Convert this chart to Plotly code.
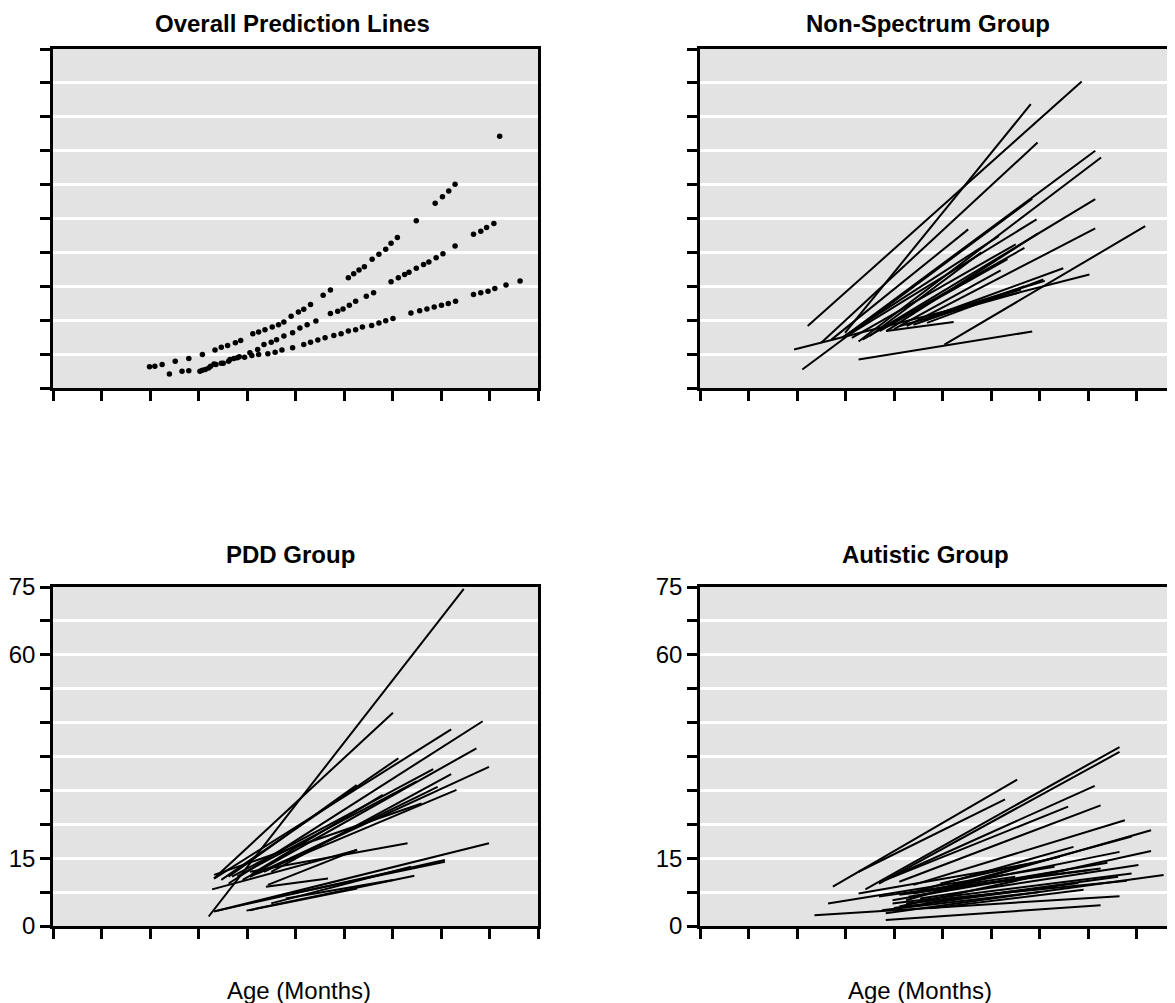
import plotly.graph_objects as go
from plotly.subplots import make_subplots

# The page body adds an 8 px margin, so the figure is 8 px smaller than the window
# and every pixel position below is relative to the figure's own top-left corner.
W, H = 1167, 995

# ---------------- Data ----------------
# Overall prediction lines (three dotted curves): age (months), score
upper_age = [19.9, 21.0, 22.5, 25.2, 28.0, 30.8, 33.4, 34.7, 36.0, 37.6, 38.7, 41.2, 42.4, 43.7,
             45.2, 46.5, 47.6, 49.1, 50.6, 51.7, 53.1, 55.7, 57.2, 60.9, 62.0, 63.1, 64.2, 65.8,
             67.2, 68.6, 69.7, 71.0, 74.9, 78.8, 80.3, 81.6, 82.9, 92.1]
upper_score = [4.7, 4.8, 5.2, 5.9, 6.5, 7.4, 8.4, 9.0, 9.4, 10.0, 10.5, 12.0, 12.4, 12.9,
               13.5, 14.0, 14.6, 15.9, 16.8, 17.4, 18.5, 20.5, 21.7, 24.4, 25.3, 26.1, 26.8, 28.5,
               29.6, 30.7, 32.0, 33.3, 37.0, 40.9, 42.3, 43.6, 45.1, 55.7]

middle_age = [24.0, 26.6, 28.0, 30.8, 32.1, 33.2, 34.7, 36.2, 37.3, 38.4, 40.6, 42.2, 43.5, 45.0,
              46.1, 47.6, 49.4, 50.9, 52.4, 54.2, 57.2, 58.7, 59.8, 61.1, 62.4, 64.6, 66.1, 69.7,
              71.2, 72.5, 73.4, 74.9, 76.4, 77.5, 79.0, 80.4, 82.9, 86.7, 88.2, 89.4, 90.9]
middle_score = [3.1, 3.7, 3.8, 3.9, 4.4, 5.3, 5.5, 5.9, 6.5, 6.9, 7.8, 8.5, 9.6, 10.1,
                10.7, 11.5, 12.2, 13.3, 14.0, 14.8, 16.5, 17.0, 17.5, 18.3, 19.2, 20.3, 21.1, 23.5,
                24.4, 25.1, 25.6, 26.5, 27.3, 27.9, 28.8, 29.7, 31.4, 34.0, 34.7, 35.5, 36.4]

lower_age = [30.3, 31.4, 32.5, 33.6, 35.1, 36.5, 38.0, 39.5, 41.0, 42.4, 44.3, 45.8, 47.2, 49.4,
             51.7, 53.1, 54.6, 56.1, 57.9, 59.4, 60.9, 62.4, 63.8, 65.7, 67.2, 68.6, 70.1, 73.8,
             75.6, 77.1, 78.6, 80.1, 81.5, 83.0, 86.7, 88.2, 89.7, 91.1, 93.4, 96.3]
lower_score = [3.7, 4.1, 4.8, 5.2, 5.5, 6.3, 6.7, 6.8, 7.2, 7.4, 7.6, 7.9, 8.4, 8.9,
               9.6, 10.1, 10.6, 11.1, 11.6, 12.0, 12.6, 12.9, 13.5, 13.8, 14.4, 14.9, 15.4, 16.6,
               17.1, 17.5, 17.9, 18.3, 18.7, 19.2, 20.7, 21.1, 21.4, 22.0, 22.8, 23.7]

# Non-Spectrum group: individual prediction lines (start/end age and score)
ns_age0 = [22.2, 29.9, 25.0, 29.9, 32.7, 21.1, 27.1, 31.3, 37.0, 38.4, 33.5, 42.6, 46.1, 46.8,
           32.7, 50.4, 19.4, 38.4, 41.2, 44.0, 37.0, 31.3, 29.2, 47.5, 49.6, 40.0, 35.0]
ns_score0 = [13.7, 12.2, 10.0, 11.5, 10.3, 4.1, 10.7, 12.2, 12.9, 12.6, 10.7, 13.7, 15.2, 14.4,
             6.3, 9.6, 8.5, 12.6, 13.7, 14.0, 12.6, 11.1, 11.1, 15.9, 16.6, 13.0, 11.5]
ns_age1 = [78.7, 68.2, 69.6, 81.5, 82.7, 68.5, 55.3, 69.4, 81.5, 69.7, 66.9, 81.5, 74.9, 70.8,
           68.5, 91.8, 80.3, 52.3, 65.8, 66.9, 63.4, 65.1, 61.6, 66.2, 71.1, 62.0, 58.0]
ns_score1 = [67.8, 62.8, 54.3, 52.5, 51.0, 41.9, 35.1, 37.3, 41.8, 34.2, 31.0, 35.3, 26.5, 24.0,
             12.5, 35.8, 25.1, 14.6, 21.1, 22.5, 28.5, 31.8, 33.6, 21.8, 23.7, 26.0, 30.0]

# PDD group
pdd_age0 = [32.1, 33.2, 33.2, 36.2, 39.1, 40.6, 42.1, 36.9, 45.0, 43.5, 34.7, 36.2, 33.2, 40.6,
            44.3, 32.8, 33.2, 33.9, 39.9, 49.4, 43.9, 40.6, 45.0, 48.0, 38.0, 41.0]
pdd_score0 = [2.1, 10.5, 10.5, 9.4, 10.2, 10.9, 11.6, 10.9, 12.0, 12.0, 10.2, 10.9, 11.3, 12.0,
              9.1, 8.1, 3.2, 3.4, 3.4, 7.2, 8.7, 3.5, 5.0, 6.1, 11.0, 11.5]
pdd_age1 = [84.7, 70.1, 82.1, 88.6, 87.3, 89.9, 83.2, 78.4, 82.1, 79.3, 71.2, 62.6, 76.0, 73.1,
            62.7, 62.7, 89.9, 80.8, 74.5, 80.8, 56.7, 62.7, 73.8, 70.1, 75.0, 68.0]
pdd_score1 = [74.6, 47.2, 43.5, 45.3, 39.3, 35.2, 30.1, 34.7, 33.6, 30.8, 37.1, 31.2, 27.1, 18.3,
              16.9, 16.8, 18.3, 14.6, 11.1, 14.2, 10.5, 8.3, 13.1, 10.2, 32.0, 29.0]

# Autistic group
aut_age0 = [27.4, 32.7, 34.1, 36.9, 39.7, 38.3, 41.1, 44.0, 26.4, 23.6, 38.3, 38.3, 41.1, 42.5,
            45.4, 39.7, 44.0, 47.5, 41.1, 51.0, 39.7, 47.5, 49.6, 36.9, 32.7, 42.5, 46.1,
            40.0, 43.0, 37.5, 45.0, 50.0]
aut_score0 = [8.7, 12.0, 8.1, 9.4, 10.9, 10.2, 9.8, 9.1, 5.0, 2.4, 1.3, 2.8, 4.3, 5.7,
              6.1, 5.0, 7.2, 8.0, 6.9, 8.7, 5.7, 3.9, 9.4, 6.5, 7.2, 5.0, 5.0,
              4.0, 6.5, 3.5, 7.8, 6.0]
aut_age1 = [65.4, 62.9, 86.5, 86.5, 81.4, 75.9, 82.6, 87.6, 73.1, 86.5, 82.6, 95.6, 93.0, 93.0,
            90.4, 89.0, 86.5, 82.6, 80.5, 89.0, 75.6, 79.1, 74.2, 65.0, 68.6, 72.8, 86.2,
            78.0, 84.0, 70.0, 77.0, 88.0]
aut_score1 = [32.4, 28.0, 39.6, 38.5, 31.0, 26.4, 26.7, 23.4, 13.1, 6.6, 4.6, 11.3, 16.6, 21.2,
              13.5, 11.6, 16.4, 12.7, 12.4, 19.8, 12.4, 8.0, 15.3, 10.9, 13.9, 8.7, 10.9,
              9.5, 14.0, 7.5, 17.5, 10.0]

y_tick_vals = [0, 7.5, 15, 22.5, 30, 37.5, 45, 52.5, 60, 67.5, 75]
y_tick_text = ["0", "", "15", "", "", "", "", "", "60", "", "75"]
x_tick_vals = [0, 10, 20, 30, 40, 50, 60, 70, 80, 90, 100]

titles = ["Overall Prediction Lines", "Non-Spectrum Group", "PDD Group", "Autistic Group"]
x_title = "Age (Months)"

# ---------------- Figure ----------------
FONT = "Liberation Sans, Arial, Helvetica, sans-serif"
fig = make_subplots(rows=2, cols=2)


def segs(a0, s0, a1, s1):
    xs, ys = [], []
    for p, q, r, t in zip(a0, s0, a1, s1):
        xs += [p, r, None]
        ys += [q, t, None]
    return xs, ys


for ax, ay in [(upper_age, upper_score), (middle_age, middle_score), (lower_age, lower_score)]:
    fig.add_trace(go.Scatter(x=ax, y=ay, mode="markers",
                             marker=dict(color="black", size=5.5, symbol="circle"),
                             showlegend=False, hoverinfo="skip"), row=1, col=1)

for (a0, s0, a1, s1), (r, c) in [((ns_age0, ns_score0, ns_age1, ns_score1), (1, 2)),
                                 ((pdd_age0, pdd_score0, pdd_age1, pdd_score1), (2, 1)),
                                 ((aut_age0, aut_score0, aut_age1, aut_score1), (2, 2))]:
    xs, ys = segs(a0, s0, a1, s1)
    fig.add_trace(go.Scatter(x=xs, y=ys, mode="lines",
                             line=dict(color="black", width=2),
                             showlegend=False, hoverinfo="skip"), row=r, col=c)

left_dom = [45 / W, 530 / W]
right_dom = [692 / W, 1.0]
top_dom = [1 - 380 / H, 1 - 41 / H]
bot_dom = [1 - 918 / H, 1 - 579 / H]

panels = [
    ("xaxis", "yaxis", left_dom, top_dom, [0, 100], False, True),
    ("xaxis2", "yaxis2", right_dom, top_dom, [0, 475 / 4.85], False, False),
    ("xaxis3", "yaxis3", left_dom, bot_dom, [0, 100], True, True),
    ("xaxis4", "yaxis4", right_dom, bot_dom, [0, 475 / 4.85], True, False),
]

for xa, ya, xd, yd, xr, labels, ymirror in panels:
    fig.layout[xa].update(
        domain=xd, range=xr, tickvals=x_tick_vals, showticklabels=False,
        ticks="outside", ticklen=10, tickwidth=2.5, tickcolor="black",
        showline=True, linecolor="black", linewidth=2.5, mirror=True,
        showgrid=False, zeroline=False, fixedrange=True, automargin=False)
    fig.layout[ya].update(
        domain=yd, range=[0, 75], tickvals=y_tick_vals,
        ticktext=y_tick_text if labels else [""] * len(y_tick_vals),
        ticks="outside", ticklen=10, tickwidth=2.5, tickcolor="black",
        tickfont=dict(family=FONT, size=24, color="black"),
        showline=True, linecolor="black", linewidth=2.5, mirror=ymirror,
        showgrid=True, gridcolor="white", gridwidth=2.5,
        zeroline=False, fixedrange=True, automargin=False)

annos = []
# top-row titles anchored to the figure's top edge so that they stay inside it
for text, px in [(titles[0], 284), (titles[1], 920)]:
    annos.append(dict(text="<b>" + text + "</b>", x=px / W, y=1.0,
                      xref="paper", yref="paper", xanchor="center", yanchor="top",
                      showarrow=False, font=dict(family=FONT, size=24, color="black")))
for text, px, py in [(titles[2], 282, 546), (titles[3], 917, 546)]:
    annos.append(dict(text="<b>" + text + "</b>", x=px / W, y=1 - py / H,
                      xref="paper", yref="paper", xanchor="center", yanchor="middle",
                      showarrow=False, font=dict(family=FONT, size=24, color="black")))
for px in [291, 912]:
    annos.append(dict(text=x_title, x=px / W, y=1 - 982 / H,
                      xref="paper", yref="paper", xanchor="center", yanchor="middle",
                      showarrow=False, font=dict(family=FONT, size=24, color="black")))

fig.update_layout(
    width=W, height=H,
    margin=dict(l=0, r=0, t=0, b=0, autoexpand=False),
    paper_bgcolor="white", plot_bgcolor="#e3e3e3",
    annotations=annos,
    showlegend=False,
)

fig.write_html("out.html")
